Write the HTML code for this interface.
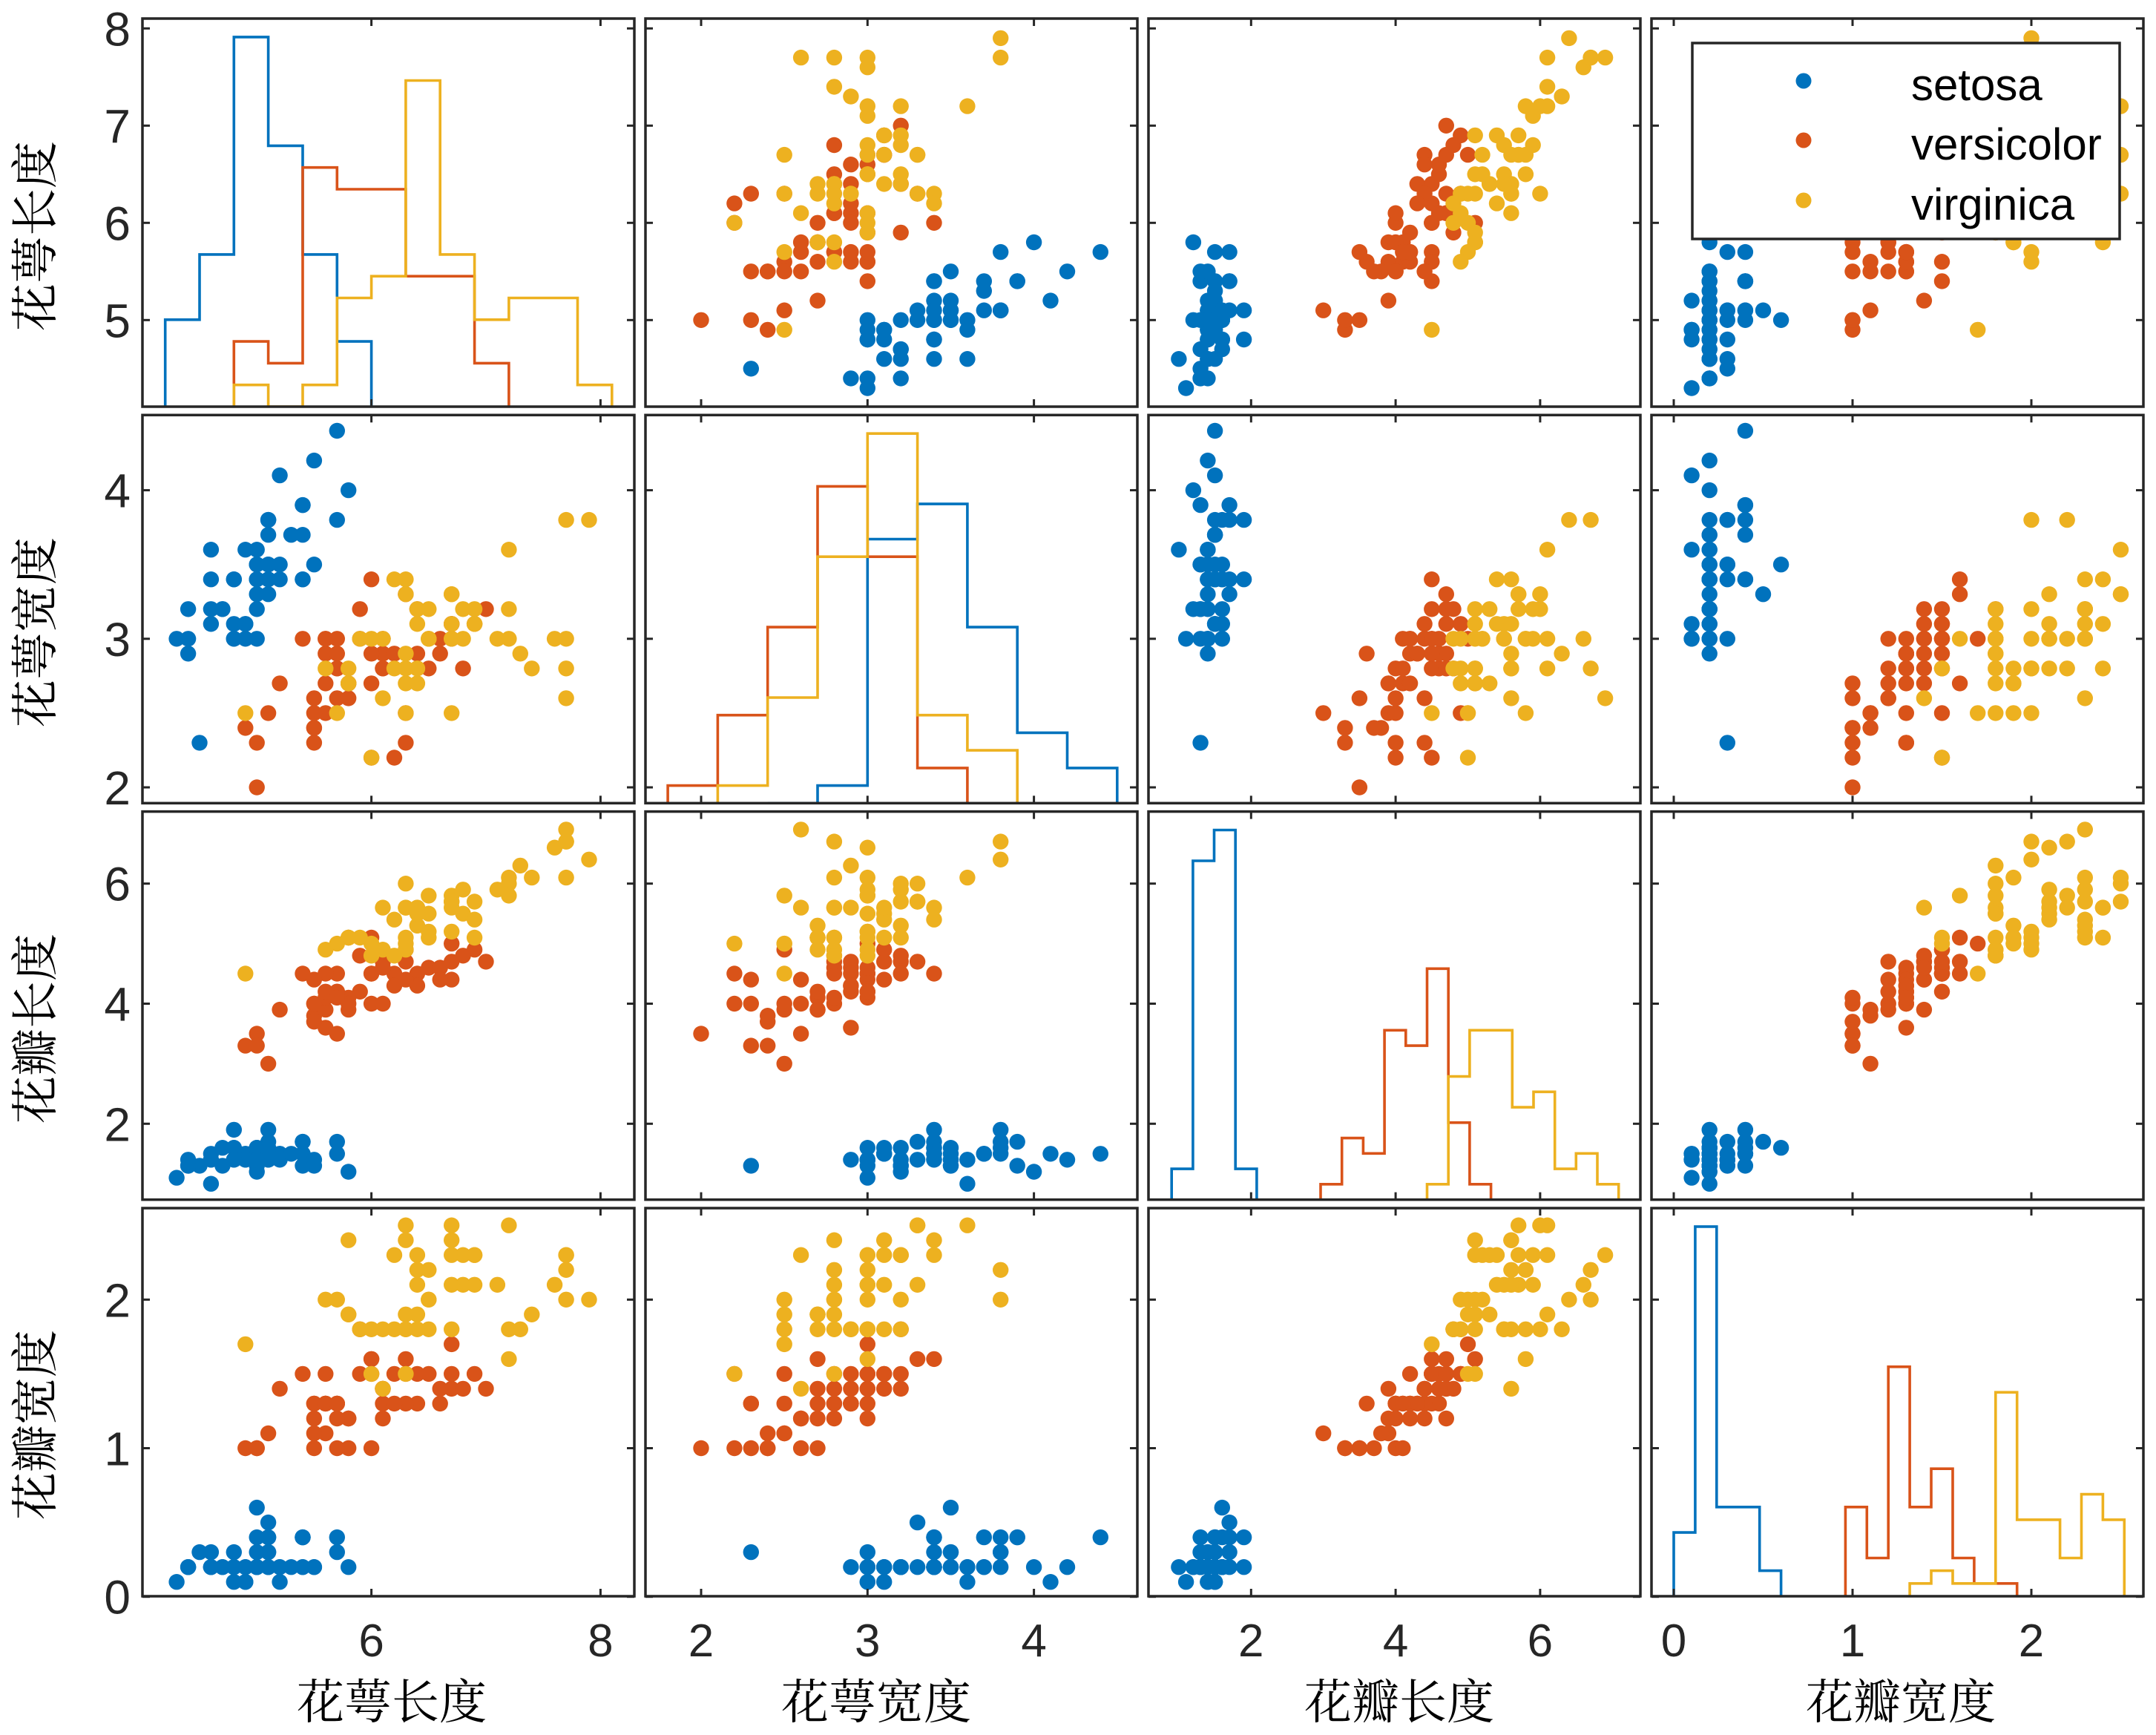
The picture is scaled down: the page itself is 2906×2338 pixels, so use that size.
<!DOCTYPE html>
<html><head><meta charset="utf-8"><style>
html,body{margin:0;padding:0;background:#fff;}
svg{display:block;}
</style></head><body>
<svg id="chart" width="2906" height="2338" viewBox="0 0 2906 2338" xmlns="http://www.w3.org/2000/svg">
<rect x="0" y="0" width="2906" height="2338" fill="#fff"/>
<g id="panels"></g>
<g id="ticklabels" font-family="Liberation Sans, Arial, sans-serif" fill="#262626"></g>
<g font-family="'Liberation Serif','Noto Serif CJK SC','Noto Sans CJK SC',serif" font-size="64" fill="#000">
<text x="528" y="2316" text-anchor="middle">花萼长度</text>
<text x="1181" y="2316" text-anchor="middle">花萼宽度</text>
<text x="1886" y="2316" text-anchor="middle">花瓣长度</text>
<text x="2562" y="2316" text-anchor="middle">花瓣宽度</text>
<text transform="translate(70,318) rotate(-90)" text-anchor="middle">花萼长度</text>
<text transform="translate(70,852) rotate(-90)" text-anchor="middle">花萼宽度</text>
<text transform="translate(70,1386) rotate(-90)" text-anchor="middle">花瓣长度</text>
<text transform="translate(70,1920) rotate(-90)" text-anchor="middle">花瓣宽度</text>
</g>
<g id="legend">
<rect x="2281" y="58" width="576" height="264" fill="#fff" stroke="#262626" stroke-width="3.5"/>
<circle cx="2431" cy="109" r="10.5" fill="#0072BD"/>
<circle cx="2431" cy="189" r="10.5" fill="#D95319"/>
<circle cx="2431" cy="270" r="10.5" fill="#EDB120"/>
<g font-family="Liberation Sans, Arial, sans-serif" font-size="60" fill="#000">
<text x="2576" y="135">setosa</text>
<text x="2576" y="215">versicolor</text>
<text x="2576" y="296">virginica</text>
</g>
</g>
</svg>
<script>
// ---- data (Fisher iris) ----
const setosaSL=[5.1,4.9,4.7,4.6,5.0,5.4,4.6,5.0,4.4,4.9,5.4,4.8,4.8,4.3,5.8,5.7,5.4,5.1,5.7,5.1,5.4,5.1,4.6,5.1,4.8,5.0,5.0,5.2,5.2,4.7,4.8,5.4,5.2,5.5,4.9,5.0,5.5,4.9,4.4,5.1,5.0,4.5,4.4,5.0,5.1,4.8,5.1,4.6,5.3,5.0];
const setosaSW=[3.5,3.0,3.2,3.1,3.6,3.9,3.4,3.4,2.9,3.1,3.7,3.4,3.0,3.0,4.0,4.4,3.9,3.5,3.8,3.8,3.4,3.7,3.6,3.3,3.4,3.0,3.4,3.5,3.4,3.2,3.1,3.4,4.1,4.2,3.1,3.2,3.5,3.6,3.0,3.4,3.5,2.3,3.2,3.5,3.8,3.0,3.8,3.2,3.7,3.3];
const setosaPL=[1.4,1.4,1.3,1.5,1.4,1.7,1.4,1.5,1.4,1.5,1.5,1.6,1.4,1.1,1.2,1.5,1.3,1.4,1.7,1.5,1.7,1.5,1.0,1.7,1.9,1.6,1.6,1.5,1.4,1.6,1.6,1.5,1.5,1.4,1.5,1.2,1.3,1.4,1.3,1.5,1.3,1.3,1.3,1.6,1.9,1.4,1.6,1.4,1.5,1.4];
const setosaPW=[0.2,0.2,0.2,0.2,0.2,0.4,0.3,0.2,0.2,0.1,0.2,0.2,0.1,0.1,0.2,0.4,0.4,0.3,0.3,0.3,0.2,0.4,0.2,0.5,0.2,0.2,0.4,0.2,0.2,0.2,0.2,0.4,0.1,0.2,0.2,0.2,0.2,0.1,0.2,0.2,0.3,0.3,0.2,0.6,0.4,0.3,0.2,0.2,0.2,0.2];
const versiSL=[7.0,6.4,6.9,5.5,6.5,5.7,6.3,4.9,6.6,5.2,5.0,5.9,6.0,6.1,5.6,6.7,5.6,5.8,6.2,5.6,5.9,6.1,6.3,6.1,6.4,6.6,6.8,6.7,6.0,5.7,5.5,5.5,5.8,6.0,5.4,6.0,6.7,6.3,5.6,5.5,5.5,6.1,5.8,5.0,5.6,5.7,5.7,6.2,5.1,5.7];
const versiSW=[3.2,3.2,3.1,2.3,2.8,2.8,3.3,2.4,2.9,2.7,2.0,3.0,2.2,2.9,2.9,3.1,3.0,2.7,2.2,2.5,3.2,2.8,2.5,2.8,2.9,3.0,2.8,3.0,2.9,2.6,2.4,2.4,2.7,2.7,3.0,3.4,3.1,2.3,3.0,2.5,2.6,3.0,2.6,2.3,2.7,3.0,2.9,2.9,2.5,2.8];
const versiPL=[4.7,4.5,4.9,4.0,4.6,4.5,4.7,3.3,4.6,3.9,3.5,4.2,4.0,4.7,3.6,4.4,4.5,4.1,4.5,3.9,4.8,4.0,4.9,4.7,4.3,4.4,4.8,5.0,4.5,3.5,3.8,3.7,3.9,5.1,4.5,4.5,4.7,4.4,4.1,4.0,4.4,4.6,4.0,3.3,4.2,4.2,4.2,4.3,3.0,4.1];
const versiPW=[1.4,1.5,1.5,1.3,1.5,1.3,1.6,1.0,1.3,1.4,1.0,1.5,1.0,1.4,1.3,1.4,1.5,1.0,1.5,1.1,1.8,1.3,1.5,1.2,1.3,1.4,1.4,1.7,1.5,1.0,1.1,1.0,1.2,1.6,1.5,1.6,1.5,1.3,1.3,1.3,1.2,1.4,1.2,1.0,1.3,1.2,1.3,1.3,1.1,1.3];
const virgSL=[6.3,5.8,7.1,6.3,6.5,7.6,4.9,7.3,6.7,7.2,6.5,6.4,6.8,5.7,5.8,6.4,6.5,7.7,7.7,6.0,6.9,5.6,7.7,6.3,6.7,7.2,6.2,6.1,6.4,7.2,7.4,7.9,6.4,6.3,6.1,7.7,6.3,6.4,6.0,6.9,6.7,6.9,5.8,6.8,6.7,6.7,6.3,6.5,6.2,5.9];
const virgSW=[3.3,2.7,3.0,2.9,3.0,3.0,2.5,2.9,2.5,3.6,3.2,2.7,3.0,2.5,2.8,3.2,3.0,3.8,2.6,2.2,3.2,2.8,2.8,2.7,3.3,3.2,2.8,3.0,2.8,3.0,2.8,3.8,2.8,2.8,2.6,3.0,3.4,3.1,3.0,3.1,3.1,3.1,2.7,3.2,3.3,3.0,2.5,3.0,3.4,3.0];
const virgPL=[6.0,5.1,5.9,5.6,5.8,6.6,4.5,6.3,5.8,6.1,5.1,5.3,5.5,5.0,5.1,5.3,5.5,6.7,6.9,5.0,5.7,4.9,6.7,4.9,5.7,6.0,4.8,4.9,5.6,5.8,6.1,6.4,5.6,5.1,5.6,6.1,5.6,5.5,4.8,5.4,5.6,5.1,5.1,5.9,5.7,5.2,5.0,5.2,5.4,5.1];
const virgPW=[2.5,1.9,2.1,1.8,2.2,2.1,1.7,1.8,1.8,2.5,2.0,1.9,2.1,2.0,2.4,2.3,1.8,2.2,2.3,1.5,2.3,2.0,2.0,1.8,2.1,1.8,1.8,1.8,2.1,1.6,1.9,2.0,2.2,1.5,1.4,2.3,2.4,1.8,1.8,2.1,2.4,2.3,1.9,2.3,2.5,2.3,1.9,2.0,2.3,1.8];
const groupNames=["setosa","versicolor","virginica"];
// histogram bins (counts) per diagonal panel
const histStart=[4.2,1.8,0.9,0.0];
const histWidth=[0.3,0.3,0.2946,0.12];
const histSetosaIdx=[0,2,0,0];
const histSetosaCounts=[[4,7,17,12,7,3],[0,1,15,17,10,4,2],[2,22,24,2],[5,29,7,7,2]];
const histVersiIdx=[2,0,7,8];
const histVersiCounts=[[3,2,11,10,10,6,6,2],[1,5,10,18,14,2],[1,4,3,11,10,15,5,1],[7,3,18,7,10,3,1,1]];
const histVirgIdx=[2,1,12,11];
const histVirgCounts=[[1,0,1,5,6,15,7,4,5,5,1],[1,6,14,21,5,3],[1,8,11,11,6,7,2,3,1],[1,2,1,1,16,6,6,3,8,6]];
const varNames=["sepal-length","sepal-width","petal-length","petal-width"];
const xTickVals=[[6,8],[2,3,4],[2,4,6],[0,1,2]];
const yTickVals=[[5,6,7,8],[2,3,4],[2,4,6],[0,1,2]];

const NS="http://www.w3.org/2000/svg";
const colors=["#0072BD","#D95319","#EDB120"];
const colL=[192,870,1548,2226], PW=663;
const rowT=[25,559.3,1093.6,1628], PH=523;
const xMap=[[6,500.6,154.4],[2,945,224.3],[2,1686.3,97.4],[0,2256,241]];
const yMap=[[8,38.3,131],[4,660.6,200.2],[6,1190.7,80.9],[2,1751.3,200.2]];
function sx(c,v){const m=xMap[c];return m[1]+(v-m[0])*m[2];}
function sy(r,v){const m=yMap[r];return m[1]-(v-m[0])*m[2];}
const data=[[setosaSL,setosaSW,setosaPL,setosaPW],[versiSL,versiSW,versiPL,versiPW],[virgSL,virgSW,virgPL,virgPW]];
const hIdx=[histSetosaIdx,histVersiIdx,histVirgIdx];
const hCnt=[histSetosaCounts,histVersiCounts,histVirgCounts];
const panels=document.getElementById('panels');
const tl=document.getElementById('ticklabels');
function mk(tag,attrs,parent){const e=document.createElementNS(NS,tag);for(const k in attrs)e.setAttribute(k,attrs[k]);parent.appendChild(e);return e;}

for(let r=0;r<4;r++){for(let c=0;c<4;c++){
  const g=mk('g',{},panels);
  
  
  const x0=colL[c],y0=rowT[r],x1=x0+PW,y1=y0+PH;
  const cp=mk('clipPath',{id:'cp'+r+c},g);
  mk('rect',{x:x0,y:y0,width:PW,height:PH},cp);
  const inner=mk('g',{'clip-path':'url(#cp'+r+c+')'},g);
  if(r===c){
    let mx=0;for(let k=0;k<3;k++)for(const v of hCnt[k][r])mx=Math.max(mx,v);
    const hs=(PH/1.05)/mx;
    for(let k=0;k<3;k++){
      const cnt=hCnt[k][r],i0=hIdx[k][r],w=histWidth[r],s=histStart[r];
      let xa=sx(c,s+i0*w);
      let d='M'+xa.toFixed(1)+','+y1;
      for(let i=0;i<cnt.length;i++){
        const xb=sx(c,s+(i0+i+1)*w);
        const yy=y1-cnt[i]*hs;
        d+=' V'+yy.toFixed(1)+' H'+xb.toFixed(1);
      }
      d+=' V'+y1;
      const p=mk('path',{d:d,fill:'none',stroke:colors[k],'stroke-width':3.6},inner);
      
      
    }
  } else {
    for(let k=0;k<3;k++){
      const gx=data[k][c],gy=data[k][r];
      for(let i=0;i<gx.length;i++){
        const pt=mk('circle',{cx:sx(c,gx[i]).toFixed(1),cy:sy(r,gy[i]).toFixed(1),r:10.7,fill:colors[k]},inner);
        
        
      }
    }
  }
  for(const v of xTickVals[c]){const x=sx(c,v);
    mk('line',{x1:x,y1:y0,x2:x,y2:y0+10,stroke:'#262626','stroke-width':3},g);
    mk('line',{x1:x,y1:y1,x2:x,y2:y1-10,stroke:'#262626','stroke-width':3},g);}
  for(const v of yTickVals[r]){const y=sy(r,v);
    mk('line',{x1:x0,y1:y,x2:x0+10,y2:y,stroke:'#262626','stroke-width':3},g);
    mk('line',{x1:x1,y1:y,x2:x1-10,y2:y,stroke:'#262626','stroke-width':3},g);}
  const fr=mk('rect',{x:x0,y:y0,width:PW,height:PH,fill:'none',stroke:'#262626','stroke-width':3.5},g);
  
  
}}
for(let r=0;r<4;r++){for(const v of yTickVals[r]){
  const t=mk('text',{x:176,y:(sy(r,v)+23).toFixed(1),'text-anchor':'end','font-size':64},tl);
  t.textContent=String(v);
  
  
}}
for(let c=0;c<4;c++){for(const v of xTickVals[c]){
  const t=mk('text',{x:sx(c,v).toFixed(1),y:2232,'text-anchor':'middle','font-size':62},tl);
  t.textContent=String(v);
  
  
}}
</script>
</body></html>
